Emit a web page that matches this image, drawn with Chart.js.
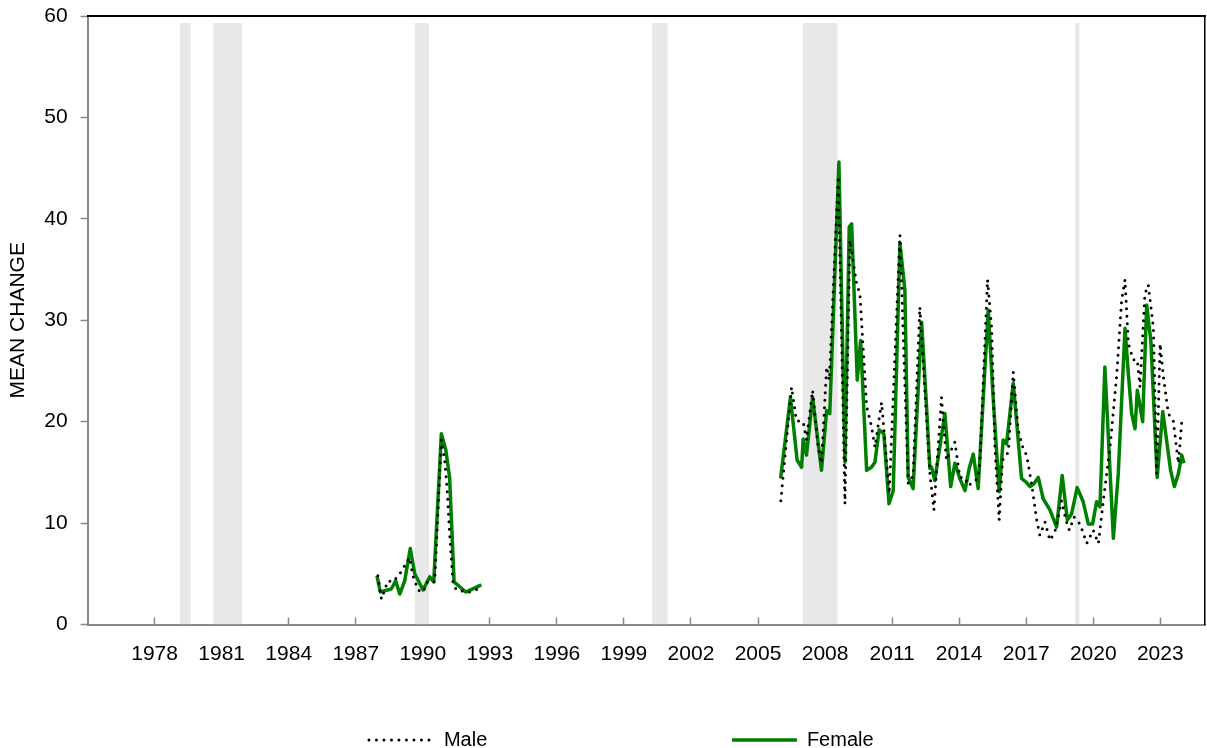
<!DOCTYPE html>
<html>
<head>
<meta charset="utf-8">
<script src="https://cdn.jsdelivr.net/npm/chart.js@4.4.1/dist/chart.umd.min.js"></script>
<style>
  body { margin: 0; background: #fff; }
  #wrap { width: 1207px; height: 748px; position: relative; }
</style>
</head>
<body>
<div id="wrap"><canvas id="myChart"></canvas></div>
<script>
// x positions are decimal years
const tickYears = [1978, 1981, 1984, 1987, 1990, 1993, 1996, 1999, 2002, 2005, 2008, 2011, 2014, 2017, 2020, 2023];

// shaded periods
const bandStarts = [1979.13, 1980.64, 1989.64, 2000.26, 2007.0, 2019.19];
const bandEnds = [1979.61, 1981.92, 1990.28, 2000.96, 2008.56, 2019.39];
const bandTop = 59.3;

const maleYears = [
  1987.99, 1988.15, 1988.29, 1988.44, 1988.67, 1988.97, 1989.19, 1989.41, 1989.56, 1989.79,
  1990.01, 1990.23, 1990.53, 1990.83, 1990.98, 1991.08, 1991.2, 1991.35, 1991.5, 1992.1, 1992.47,
  1999.0,
  2006.02, 2006.5, 2006.72, 2007.02, 2007.17, 2007.44, 2007.69, 2007.84, 2008.07, 2008.19,
  2008.59, 2008.89, 2009.11, 2009.41, 2009.56, 2009.86, 2010.08, 2010.23, 2010.53, 2010.87,
  2011.35, 2011.72, 2011.94, 2012.24, 2012.69, 2012.87, 2013.21, 2013.43, 2013.81, 2014.03,
  2014.26, 2014.4, 2014.63, 2014.85, 2014.93, 2015.27, 2015.45, 2015.6, 2015.79, 2015.94,
  2016.2, 2016.42, 2016.64, 2016.87, 2017.02, 2017.24, 2017.47, 2017.61, 2017.84, 2018.06,
  2018.28, 2018.58, 2018.78, 2018.93, 2019.14, 2019.41, 2019.71, 2020.0, 2020.23, 2020.45,
  2020.75, 2021.05, 2021.27, 2021.42, 2021.57, 2021.79, 2021.97, 2022.09, 2022.31, 2022.46,
  2022.69, 2022.84, 2022.99, 2023.14, 2023.36, 2023.58, 2023.81, 2023.96
];
const maleValues = [
  4.8, 2.5, 3.4, 4.3, 4.2, 5.0, 5.8, 6.6, 4.8, 3.4,
  3.2, 4.3, 4.2, 18.2, 16.2, 13.6, 9.0, 4.2, 3.4, 3.2, 3.5,
  null,
  12.2, 23.4, 20.1, 20.0, 18.2, 23.1, 17.5, 15.9, 25.4, 24.1,
  44.2, 11.9, 37.9, 33.6, 32.6, 21.5, 19.5, 17.5, 21.9, 12.9,
  38.4, 13.9, 14.7, 31.3, 14.9, 11.3, 22.4, 16.2, 18.0, 14.5,
  14.5, 13.7, 14.0, 14.5, 16.2, 34.0, 29.3, 17.5, 10.3, 16.2,
  17.0, 24.9, 19.2, 17.3, 16.7, 13.9, 10.3, 8.8, 10.1, 8.3,
  9.1, 12.2, 10.3, 9.3, 10.6, 9.9, 8.0, 9.3, 8.0, 12.2,
  17.5, 24.6, 32.0, 34.0, 27.7, 26.1, 26.1, 23.4, 32.6, 33.5,
  29.3, 14.9, 27.7, 24.4, 20.8, 20.1, 15.9, 20.0
];

const femaleYears = [
  1987.95, 1988.1, 1988.59, 1988.79, 1988.97, 1989.19, 1989.44, 1989.64, 1990.01, 1990.31,
  1990.49, 1990.83, 1991.03, 1991.2, 1991.4, 1991.92, 1992.62,
  1999.0,
  2006.01, 2006.45, 2006.75, 2006.95, 2007.02, 2007.17, 2007.44, 2007.84, 2008.07, 2008.21,
  2008.62, 2008.89, 2009.08, 2009.19, 2009.44, 2009.59, 2009.86, 2010.08, 2010.23, 2010.42,
  2010.63, 2010.86, 2011.05, 2011.35, 2011.57, 2011.72, 2011.94, 2012.32, 2012.54, 2012.69,
  2012.77, 2012.91, 2013.36, 2013.62, 2013.81, 2014.03, 2014.26, 2014.45, 2014.63, 2014.85,
  2015.3, 2015.52, 2015.79, 2015.97, 2016.12, 2016.42, 2016.79, 2017.02, 2017.17, 2017.35,
  2017.54, 2017.76, 2018.06, 2018.36, 2018.61, 2018.84, 2019.03, 2019.28, 2019.55, 2019.78,
  2019.97, 2020.15, 2020.3, 2020.52, 2020.9, 2021.12, 2021.42, 2021.57, 2021.72, 2021.87,
  2021.97, 2022.21, 2022.39, 2022.58, 2022.86, 2023.11, 2023.46, 2023.63, 2023.81, 2023.96,
  2024.06
];
const femaleValues = [
  4.8, 3.2, 3.5, 4.3, 3.0, 4.3, 7.5, 5.0, 3.4, 4.7,
  4.2, 18.8, 17.2, 14.5, 4.2, 3.2, 3.9,
  null,
  14.4, 22.4, 16.2, 15.5, 18.3, 16.7, 22.4, 15.2, 21.1, 20.8,
  45.6, 16.0, 39.2, 39.5, 24.1, 28.0, 15.2, 15.5, 16.0, 19.2,
  18.8, 11.9, 13.2, 37.6, 33.0, 14.5, 13.4, 29.8, 21.5, 15.4,
  15.5, 14.2, 20.8, 13.6, 15.9, 14.4, 13.2, 15.4, 16.8, 13.4,
  31.0, 22.4, 13.1, 18.2, 17.8, 23.8, 14.4, 14.0, 13.6, 13.9,
  14.5, 12.4, 11.3, 9.6, 14.7, 10.3, 10.9, 13.5, 12.1, 9.9,
  9.9, 12.1, 11.6, 25.4, 8.5, 14.9, 29.2, 24.7, 20.8, 19.3,
  23.1, 20.0, 31.5, 27.9, 14.5, 21.0, 15.2, 13.6, 14.9, 16.7,
  15.9
];

function toPoints(xs, ys) {
  return xs.map((x, i) => ({ x: x, y: ys[i] }));
}

// stepped outline: up at each start, down at each end
const bandPoints = [];
bandStarts.forEach((s, i) => {
  bandPoints.push({ x: s, y: bandTop });
  bandPoints.push({ x: bandEnds[i], y: 0 });
});

Chart.defaults.font.family = "'Liberation Sans', Arial, sans-serif";
Chart.defaults.color = "#000";

const maleDash = [0, 7.5];

const ctx = document.getElementById("myChart").getContext("2d");
const myChart = new Chart(ctx, {
  type: "line",
  data: {
    datasets: [
      {
        label: "Male",
        data: toPoints(maleYears, maleValues),
        borderColor: "#000",
        backgroundColor: "#000",
        borderWidth: 3,
        borderDash: maleDash,
        borderCapStyle: "round",
        pointRadius: 0,
        tension: 0,
        spanGaps: false
      },
      {
        label: "Female",
        data: toPoints(femaleYears, femaleValues),
        borderColor: "#008000",
        backgroundColor: "#008000",
        borderWidth: 3.5,
        borderJoinStyle: "round",
        pointRadius: 0,
        tension: 0,
        spanGaps: false
      },
      {
        label: "bands",
        data: bandPoints,
        stepped: "before",
        fill: "origin",
        backgroundColor: "#e8e8e8",
        borderWidth: 0,
        pointRadius: 0,
        order: 10
      }
    ]
  },
  options: {
    responsive: true,
    maintainAspectRatio: false,
    animation: false,
    layout: { padding: { left: 6, right: 2, top: 16, bottom: -12 } },
    plugins: {
      tooltip: { enabled: false },
      legend: {
        position: "bottom",
        fullSize: false,
        labels: {
          font: { size: 20 },
          color: "#000",
          usePointStyle: true,
          pointStyle: "line",
          pointStyleWidth: 65,
          padding: 39,
          generateLabels(chart) {
            const items = Chart.defaults.plugins.legend.labels.generateLabels(chart);
            return items
              .filter(it => it.datasetIndex < 2)
              .map(it => {
                if (it.datasetIndex === 0) {
                  it.text = it.text + " ".repeat(37);
                  it.lineDash = maleDash;
                  it.lineCap = "round";
                  it.lineWidth = 3;
                  it.strokeStyle = "#000";
                } else {
                  it.text = it.text + " ".repeat(9);
                  it.lineWidth = 3.5;
                  it.strokeStyle = "#008000";
                }
                return it;
              });
          }
        }
      }
    },
    scales: {
      x: {
        type: "linear",
        position: "bottom",
        min: 1975,
        max: 2025,
        z: 1,
        afterBuildTicks: axis => {
          axis.ticks = tickYears.map(v => ({ value: v }));
        },
        ticks: {
          font: { size: 21, lineHeight: 3.5 },
          color: "#000",
          padding: 0,
          maxRotation: 0,
          autoSkip: false,
          callback: v => String(v)
        },
        grid: { drawOnChartArea: false, tickLength: -7, tickColor: "#888", tickWidth: 1.5 },
        border: { color: "#888", width: 2 }
      },
      y: {
        position: "left",
        min: 0,
        max: 60,
        ticks: { stepSize: 10, font: { size: 21, lineHeight: 0.2 }, color: "#000", padding: 13 },
        grid: { drawOnChartArea: false, tickLength: 7, tickColor: "#888", tickWidth: 1.5 },
        border: { color: "#888", width: 2 },
        title: {
          display: true,
          text: "MEAN CHANGE",
          font: { size: 21 },
          color: "#000",
          padding: { top: 0, bottom: 0 }
        }
      },
      xTop: {
        type: "linear",
        position: "top",
        min: 1975,
        max: 2025,
        display: true,
        ticks: { display: false },
        grid: { display: false, drawTicks: false },
        border: { color: "#000", width: 2 }
      },
      yRight: {
        type: "linear",
        position: "right",
        min: 0,
        max: 60,
        display: true,
        ticks: { display: false },
        grid: { display: false, drawTicks: false },
        border: { color: "#000", width: 1.5 }
      }
    }
  }
});
</script>
</body>
</html>
